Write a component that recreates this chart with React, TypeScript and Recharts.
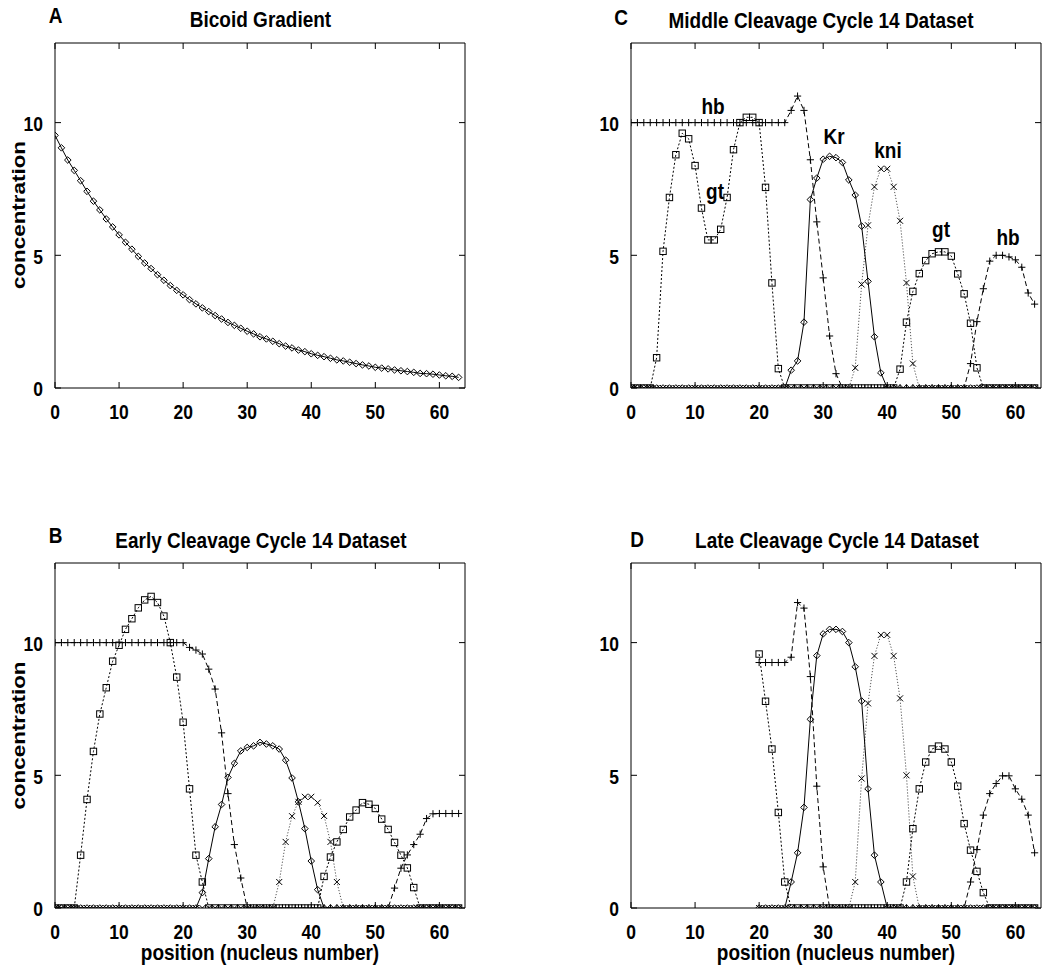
import React from 'react';
import { LineChart, Line, XAxis, YAxis } from 'recharts';

const FONT = "'Liberation Sans', Arial, Helvetica, sans-serif";

// ---------- categories / ticks ----------
const nucleiFull: number[] = Array.from({ length: 64 }, (_, i) => i);
const nucleiLate: number[] = nucleiFull.slice(20);
const xTicks = [0, 10, 20, 30, 40, 50, 60];
const yTicks = [0, 5, 10];

// ---------- Panel A: Bicoid gradient ----------
const bicoidA = [
  9.52, 9.05, 8.59, 8.2, 7.81, 7.41, 7.04, 6.71, 6.37, 6.07,
  5.77, 5.49, 5.23, 4.96, 4.71, 4.5, 4.27, 4.06, 3.86, 3.68,
  3.51, 3.33, 3.17, 3.02, 2.88, 2.73, 2.6, 2.47, 2.36, 2.25,
  2.14, 2.04, 1.93, 1.85, 1.76, 1.67, 1.58, 1.51, 1.43, 1.37,
  1.29, 1.23, 1.18, 1.12, 1.06, 1.02, 0.97, 0.92, 0.87, 0.83,
  0.78, 0.75, 0.72, 0.68, 0.65, 0.62, 0.59, 0.55, 0.54, 0.52,
  0.49, 0.46, 0.44, 0.4,
];

// ---------- Panel B: early cycle 14 ----------
const hbB = [
  10, 10, 10, 10, 10, 10, 10, 10, 10, 10, 10, 10, 10, 10, 10, 10, 10, 10, 10, 10, 10,
  9.82, 9.72, 9.57, 9.0, 8.25, 6.6, 4.31, 2.39, 1.13,
  0, 0, 0, 0, 0, 0, 0, 0, 0, 0, 0, 0, 0, 0, 0, 0, 0, 0, 0, 0, 0, 0, 0,
  0.75, 1.5, 2.0, 2.39, 2.78, 3.37, 3.55, 3.56, 3.56, 3.56, 3.56,
];
const gtB = [
  0, 0, 0, 0,
  1.99, 4.09, 5.9, 7.31, 8.3, 9.3, 9.9, 10.5, 10.9, 11.31, 11.61, 11.74, 11.51, 11.0, 10.0, 8.7, 7.0, 4.49, 1.99, 0.98,
  0, 0, 0, 0, 0, 0, 0, 0, 0, 0, 0, 0, 0, 0, 0, 0, 0, 0,
  1.19, 1.92, 2.49, 2.96, 3.43, 3.69, 3.97, 3.91, 3.75, 3.35, 2.96, 2.47, 1.99, 1.51, 0.77,
  0, 0, 0, 0, 0, 0, 0,
];
const krB = [
  0, 0, 0, 0, 0, 0, 0, 0, 0, 0, 0, 0, 0, 0, 0, 0, 0, 0, 0, 0, 0, 0, 0,
  0.58, 1.86, 3.06, 3.9, 4.92, 5.45, 5.92, 6.05, 6.11, 6.24, 6.18, 6.11, 5.99, 5.57, 4.9, 4.0, 2.99, 1.77, 0.69,
  0, 0, 0, 0, 0, 0, 0, 0, 0, 0, 0, 0, 0, 0, 0, 0, 0, 0, 0, 0, 0, 0,
];
const kniB = [
  0, 0, 0, 0, 0, 0, 0, 0, 0, 0, 0, 0, 0, 0, 0, 0, 0, 0, 0, 0, 0, 0, 0, 0, 0, 0, 0, 0, 0, 0, 0, 0, 0, 0, 0,
  0.98, 2.49, 3.46, 4.0, 4.19, 4.19, 3.97, 3.47, 2.49, 0.98,
  0, 0, 0, 0, 0, 0, 0, 0, 0, 0, 0, 0, 0, 0, 0, 0, 0, 0, 0,
];

// ---------- Panel C: middle cycle 14 ----------
const hbC = [
  10, 10, 10, 10, 10, 10, 10, 10, 10, 10, 10, 10, 10, 10, 10, 10, 10, 10, 10, 10, 10, 10, 10, 10, 10,
  10.46, 11.0, 10.46, 8.6, 6.26, 4.15, 1.96, 0.54,
  0, 0, 0, 0, 0, 0, 0, 0, 0, 0, 0, 0, 0, 0, 0, 0, 0, 0, 0, 0,
  0.92, 2.5, 3.74, 4.78, 5.0, 5.0, 4.94, 4.83, 4.55, 3.58, 3.16,
];
const gtC = [
  0, 0, 0, 0,
  1.14, 5.15, 7.18, 8.79, 9.6, 9.39, 8.38, 6.78, 5.58, 5.58, 5.98, 7.18, 8.98, 10.0, 10.2, 10.2, 10.0, 7.56, 3.96, 0.73,
  0, 0, 0, 0, 0, 0, 0, 0, 0, 0, 0, 0, 0, 0, 0, 0, 0, 0,
  0.71, 2.48, 3.64, 4.31, 4.8, 5.06, 5.13, 5.13, 4.97, 4.3, 3.55, 2.44, 0.76,
  0, 0, 0, 0, 0, 0, 0, 0, 0,
];
const krC = [
  0, 0, 0, 0, 0, 0, 0, 0, 0, 0, 0, 0, 0, 0, 0, 0, 0, 0, 0, 0, 0, 0, 0, 0, 0,
  0.67, 1.02, 2.48, 7.1, 7.91, 8.62, 8.73, 8.68, 8.5, 7.84, 7.27, 6.1, 4.02, 1.93, 0.57,
  0, 0, 0, 0, 0, 0, 0, 0, 0, 0, 0, 0, 0, 0, 0, 0, 0, 0, 0, 0, 0, 0, 0, 0,
];
const kniC = [
  0, 0, 0, 0, 0, 0, 0, 0, 0, 0, 0, 0, 0, 0, 0, 0, 0, 0, 0, 0, 0, 0, 0, 0, 0, 0, 0, 0, 0, 0, 0, 0, 0, 0, 0,
  0.76, 3.9, 6.13, 7.58, 8.26, 8.26, 7.58, 6.3, 3.96, 0.92,
  0, 0, 0, 0, 0, 0, 0, 0, 0, 0, 0, 0, 0, 0, 0, 0, 0, 0, 0,
];

// ---------- Panel D: late cycle 14 (nuclei 20..63) ----------
const hbD = [
  9.25, 9.25, 9.25, 9.25, 9.25,
  9.45, 11.51, 11.3, 8.72, 4.59, 1.55,
  0, 0, 0, 0, 0, 0, 0, 0, 0, 0, 0, 0, 0, 0, 0, 0, 0, 0, 0, 0, 0, 0,
  0.98, 2.2, 3.5, 4.31, 4.69, 4.98, 4.98, 4.49, 4.1, 3.5, 2.08,
];
const gtD = [
  9.57, 7.79, 5.99, 3.6, 0.98,
  0, 0, 0, 0, 0, 0, 0, 0, 0, 0, 0, 0, 0, 0, 0, 0, 0, 0,
  0.98, 2.99, 4.49, 5.5, 5.99, 6.1, 5.99, 5.5, 4.59, 3.18, 2.18, 1.38, 0.58,
  0, 0, 0, 0, 0, 0, 0, 0,
];
const krD = [
  0, 0, 0, 0, 0,
  0.98, 2.08, 3.79, 7.11, 9.51, 10.33, 10.5, 10.5, 10.42, 10.0, 9.09, 7.8, 4.49, 1.99, 0.98,
  0, 0, 0, 0, 0, 0, 0, 0, 0, 0, 0, 0, 0, 0, 0, 0, 0, 0, 0, 0, 0, 0, 0, 0,
];
const kniD = [
  0, 0, 0, 0, 0, 0, 0, 0, 0, 0, 0, 0, 0, 0, 0,
  0.98, 4.88, 7.71, 9.5, 10.29, 10.29, 9.5, 7.9, 5.0, 1.19,
  0, 0, 0, 0, 0, 0, 0, 0, 0, 0, 0, 0, 0, 0, 0, 0, 0, 0, 0,
];

// ---------- helpers ----------
type Row = { x: number; [k: string]: number };
function buildRows(xs: number[], series: Record<string, number[]>): Row[] {
  return xs.map((x, i) => {
    const r: Row = { x };
    Object.keys(series).forEach((k) => {
      r[k] = series[k][i];
    });
    return r;
  });
}

const INK = '#000';

const Diamond = ({ cx, cy }: any) =>
  cx == null || cy == null ? null : (
    <path
      d={`M${cx},${cy - 3.3}L${cx + 3.3},${cy}L${cx},${cy + 3.3}L${cx - 3.3},${cy}Z`}
      fill="none"
      stroke={INK}
      strokeWidth={1}
    />
  );
const Square = ({ cx, cy }: any) =>
  cx == null || cy == null ? null : (
    <rect x={cx - 3.2} y={cy - 3.2} width={6.4} height={6.4} fill="none" stroke={INK} strokeWidth={1} />
  );
const Plus = ({ cx, cy }: any) =>
  cx == null || cy == null ? null : (
    <path d={`M${cx - 3.6},${cy}H${cx + 3.6}M${cx},${cy - 3.6}V${cy + 3.6}`} stroke={INK} strokeWidth={1} />
  );
const Cross = ({ cx, cy }: any) =>
  cx == null || cy == null ? null : (
    <path
      d={`M${cx - 3},${cy - 3}L${cx + 3},${cy + 3}M${cx - 3},${cy + 3}L${cx + 3},${cy - 3}`}
      stroke={INK}
      strokeWidth={1}
    />
  );

const SHAPES: Record<string, any> = { diamond: Diamond, square: Square, plus: Plus, cross: Cross };

const tickText = {
  fontFamily: FONT,
  fontWeight: 700 as const,
  fontSize: 17.5,
  fill: '#000',
};

const BottomTick = (props: any) => {
  const { x, y, payload } = props;
  return (
    <g>
      <line x1={x} y1={y} x2={x} y2={y - 6} stroke={INK} strokeWidth={1} />
      <text transform={`translate(${x},${y + 30.5}) scale(1,1.2)`} textAnchor="middle" {...tickText}>
        {payload.value}
      </text>
    </g>
  );
};
const LeftTick = (props: any) => {
  const { x, y, payload } = props;
  return (
    <g>
      <line x1={x} y1={y} x2={x + 6} y2={y} stroke={INK} strokeWidth={1} />
      <text transform={`translate(${x - 12},${y + 8.4}) scale(1,1.2)`} textAnchor="end" {...tickText}>
        {payload.value}
      </text>
    </g>
  );
};
const TopTick = (props: any) => {
  const { x, y } = props;
  return <line x1={x} y1={y} x2={x} y2={y + 6} stroke={INK} strokeWidth={1} />;
};
const RightTick = (props: any) => {
  const { x, y } = props;
  return <line x1={x} y1={y} x2={x - 6} y2={y} stroke={INK} strokeWidth={1} />;
};

type SeriesCfg = { key: string; shape: string; dash?: string; color?: string };

const axisLine = { stroke: INK, strokeWidth: 1 };
const AX = 1; // thickness reserved by each axis (must be > 0 for the axis to render)

function Panel({
  left,
  top,
  width,
  height,
  rows,
  series,
}: {
  left: number;
  top: number;
  width: number;
  height: number;
  rows: Row[];
  series: SeriesCfg[];
}) {
  const plotLeft = 55;
  const plotTop = 43;
  const plotW = 410;
  const plotH = 345;
  return (
    <div style={{ position: 'absolute', left, top, width, height }}>
      <LineChart
        width={width}
        height={height}
        data={rows}
        margin={{
          top: plotTop - AX,
          left: plotLeft - AX,
          right: width - plotLeft - plotW - AX,
          bottom: height - plotTop - plotH - AX,
        }}
      >
        <XAxis
          type="number"
          dataKey="x"
          domain={[0, 64]}
          ticks={xTicks}
          allowDataOverflow
          height={AX}
          tickSize={0}
          tickMargin={0}
          axisLine={axisLine}
          tickLine={false}
          tick={<BottomTick />}
          interval={0}
        />
        <XAxis
          xAxisId="top"
          orientation="top"
          type="number"
          dataKey="x"
          domain={[0, 64]}
          ticks={xTicks}
          allowDataOverflow
          height={AX}
          tickSize={0}
          tickMargin={0}
          axisLine={axisLine}
          tickLine={false}
          tick={<TopTick />}
          interval={0}
        />
        <YAxis
          type="number"
          domain={[0, 13]}
          ticks={yTicks}
          allowDataOverflow
          width={AX}
          tickSize={0}
          tickMargin={0}
          axisLine={axisLine}
          tickLine={false}
          tick={<LeftTick />}
          interval={0}
        />
        <YAxis
          yAxisId="right"
          orientation="right"
          type="number"
          domain={[0, 13]}
          ticks={yTicks}
          allowDataOverflow
          width={AX}
          tickSize={0}
          tickMargin={0}
          axisLine={axisLine}
          tickLine={false}
          tick={<RightTick />}
          interval={0}
        />
        {series.map((s) => {
          const Shape = SHAPES[s.shape];
          return (
            <Line
              key={s.key}
              type="linear"
              dataKey={s.key}
              stroke={s.color || INK}
              strokeWidth={1}
              strokeDasharray={s.dash}
              dot={(p: any) => <Shape key={`${s.key}-${p.index}`} cx={p.cx} cy={p.cy} />}
              activeDot={false}
              isAnimationActive={false}
              connectNulls={false}
            />
          );
        })}
      </LineChart>
    </div>
  );
}

const geneSeries: SeriesCfg[] = [
  { key: 'hb', shape: 'plus', dash: '5 3' },
  { key: 'kni', shape: 'cross', dash: '1.2 1.8', color: '#555' },
  { key: 'kr', shape: 'diamond' },
  { key: 'gt', shape: 'square', dash: '2 2' },
];
const bcdSeries: SeriesCfg[] = [{ key: 'bcd', shape: 'diamond' }];

const rowsA = buildRows(nucleiFull, { bcd: bicoidA });
const rowsB = buildRows(nucleiFull, { hb: hbB, kni: kniB, kr: krB, gt: gtB });
const rowsC = buildRows(nucleiFull, { hb: hbC, kni: kniC, kr: krC, gt: gtC });
const rowsD = buildRows(nucleiLate, { hb: hbD, kni: kniD, kr: krD, gt: gtD });

const T = ({
  x,
  y,
  children,
  size = 19,
  sy = 1.12,
  anchor = 'middle',
  rotate = false,
}: any) => (
  <text
    transform={
      rotate ? `translate(${x},${y}) rotate(-90) scale(${sy},1)` : `translate(${x},${y}) scale(1,${sy})`
    }
    textAnchor={anchor}
    fontFamily={FONT}
    fontWeight={700}
    fontSize={size}
    fill="#000"
  >
    {children}
  </text>
);

export default function App() {
  return (
    <div
      style={{
        position: 'absolute',
        left: 0,
        top: 0,
        width: 1045,
        height: 972,
        background: '#fff',
        overflow: 'hidden',
      }}
    >
      <Panel left={0} top={0} width={520} height={480} rows={rowsA} series={bcdSeries} />
      <Panel left={576} top={0} width={469} height={480} rows={rowsC} series={geneSeries} />
      <Panel left={0} top={520} width={520} height={452} rows={rowsB} series={geneSeries} />
      <Panel left={576} top={520} width={469} height={452} rows={rowsD} series={geneSeries} />
      <svg
        width={1045}
        height={972}
        style={{ position: 'absolute', left: 0, top: 0, pointerEvents: 'none' }}
      >
        {/* panel letters */}
        <T x={55.5} y={23}>A</T>
        <T x={621} y={25}>C</T>
        <T x={55.5} y={543}>B</T>
        <T x={637} y={547}>D</T>
        {/* titles */}
        <T x={260.5} y={27}>Bicoid Gradient</T>
        <T x={821} y={27.5}>Middle Cleavage Cycle 14 Dataset</T>
        <T x={261} y={547.5}>Early Cleavage Cycle 14 Dataset</T>
        <T x={837} y={547.5}>Late Cleavage Cycle 14 Dataset</T>
        {/* axis labels */}
        <T x={25} y={215} rotate sy={1.18}>concentration</T>
        <T x={25} y={735.5} rotate sy={1.18}>concentration</T>
        <T x={260} y={960}>position (nucleus number)</T>
        <T x={836} y={960}>position (nucleus number)</T>
        {/* gene annotations in panel C */}
        <T x={713} y={113.5}>hb</T>
        <T x={715} y={199}>gt</T>
        <T x={834} y={143.5}>Kr</T>
        <T x={888} y={158}>kni</T>
        <T x={941} y={237}>gt</T>
        <T x={1008} y={245}>hb</T>
      </svg>
    </div>
  );
}
